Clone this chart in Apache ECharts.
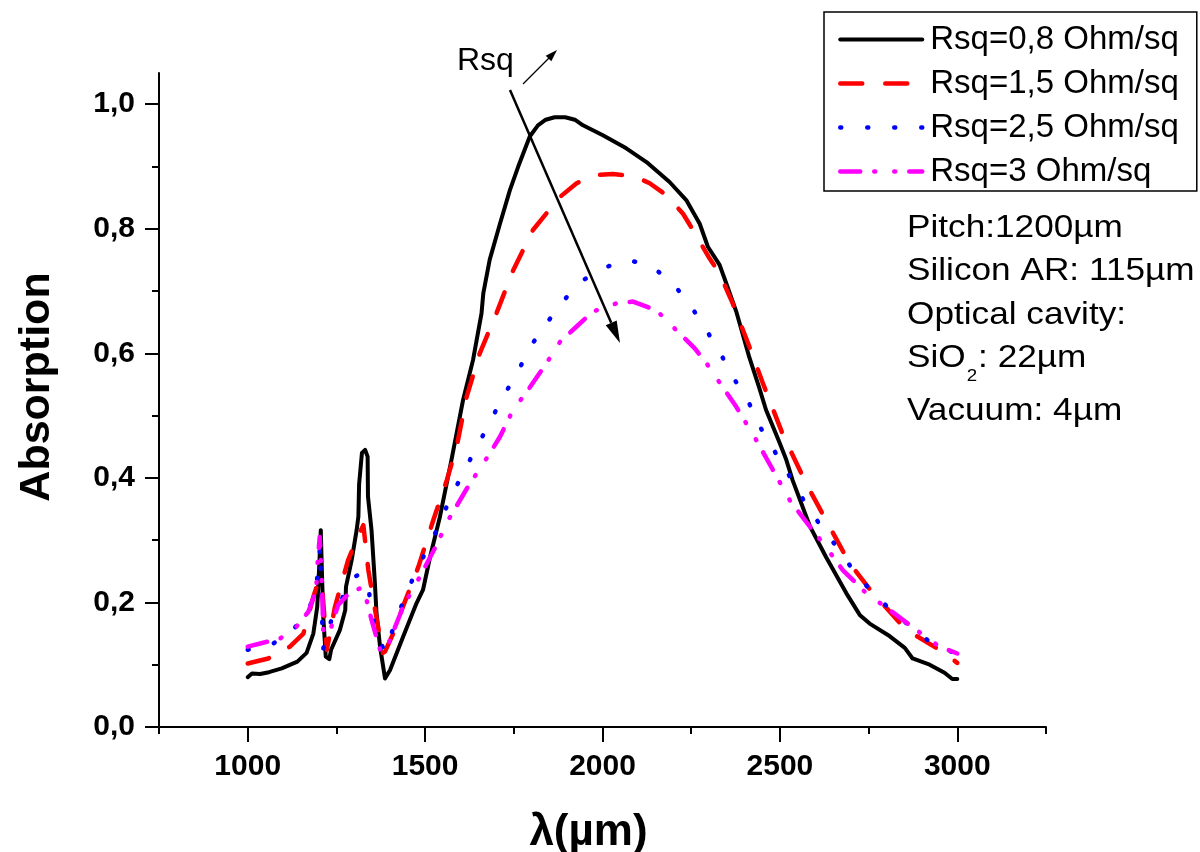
<!DOCTYPE html>
<html>
<head>
<meta charset="utf-8">
<script src="https://cdn.jsdelivr.net/npm/echarts@6/dist/echarts.min.js"></script>
<style>html,body{margin:0;padding:0;background:#fff}#c{width:1200px;height:852px}</style>
</head>
<body>
<div id="c"></div>
<script>
// ---- data ----
const seriesNames = ['Rsq=0,8 Ohm/sq', 'Rsq=1,5 Ohm/sq', 'Rsq=2,5 Ohm/sq', 'Rsq=3 Ohm/sq'];

const wl08 = [1000,1012,1035,1060,1096,1140,1166,1185,1196,1202,1206,1209,1213,1220,1230,1235,1260,1275,1277,1293,1307,1312,1314,1322,1331,1338,1339,1349,1358,1363,1373,1387,1401,1438,1476,1494,1514,1542,1575,1607,1635,1659,1664,1682,1711,1739,1762,1795,1818,1840,1865,1895,1922,1945,2001,2067,2124,2189,2236,2274,2297,2330,2349,2377,2413,2441,2461,2498,2518,2536,2584,2630,2687,2725,2753,2809,2852,2874,2922,2964,2986,3000];
const abs08 = [0.080,0.086,0.085,0.088,0.094,0.105,0.119,0.150,0.193,0.263,0.316,0.252,0.177,0.113,0.109,0.124,0.156,0.188,0.225,0.268,0.316,0.338,0.390,0.440,0.445,0.434,0.370,0.316,0.236,0.183,0.129,0.078,0.091,0.145,0.199,0.220,0.273,0.338,0.431,0.525,0.589,0.664,0.696,0.750,0.808,0.862,0.899,0.948,0.966,0.975,0.979,0.979,0.975,0.966,0.950,0.929,0.907,0.875,0.846,0.808,0.771,0.742,0.712,0.667,0.595,0.546,0.509,0.458,0.429,0.396,0.323,0.273,0.215,0.180,0.166,0.146,0.127,0.110,0.100,0.087,0.077,0.077];

const wl15 = [1000,1058,1119,1157,1185,1200,1209,1223,1246,1283,1310,1326,1340,1359,1381,1387,1410,1434,1481,1523,1561,1589,1617,1654,1701,1748,1804,1880,1927,1980,2030,2090,2133,2180,2227,2255,2302,2330,2367,2413,2452,2508,2574,2630,2696,2762,2856,2950,3000];
const abs15 = [0.102,0.110,0.129,0.150,0.209,0.235,0.231,0.124,0.193,0.268,0.305,0.324,0.252,0.188,0.119,0.121,0.150,0.188,0.257,0.332,0.396,0.450,0.530,0.600,0.664,0.733,0.798,0.851,0.873,0.886,0.888,0.884,0.873,0.854,0.824,0.798,0.752,0.728,0.680,0.612,0.552,0.470,0.391,0.332,0.263,0.215,0.156,0.124,0.103];

const wl25 = [1000,1072,1129,1180,1199,1204,1208,1213,1235,1260,1293,1315,1338,1349,1363,1387,1415,1443,1474,1509,1542,1570,1610,1645,1682,1715,1758,1790,1832,1880,1931,1997,2072,2138,2199,2250,2293,2335,2372,2413,2447,2490,2528,2569,2616,2663,2710,2762,2818,2879,2940,3000];
const abs25 = [0.124,0.134,0.156,0.199,0.247,0.290,0.200,0.126,0.170,0.199,0.239,0.245,0.233,0.188,0.148,0.121,0.166,0.209,0.249,0.289,0.327,0.367,0.410,0.450,0.487,0.527,0.565,0.605,0.640,0.677,0.712,0.736,0.750,0.740,0.712,0.675,0.637,0.597,0.558,0.520,0.479,0.438,0.402,0.362,0.322,0.287,0.249,0.215,0.185,0.156,0.129,0.118];

const wl3 = [1000,1091,1133,1171,1193,1197,1203,1210,1213,1227,1255,1286,1326,1335,1349,1373,1387,1401,1438,1485,1532,1565,1620,1673,1711,1748,1790,1842,1880,1927,1973,2039,2086,2152,2208,2260,2293,2330,2377,2433,2480,2528,2584,2630,2677,2743,2809,2884,2950,3000];
const abs3 = [0.129,0.142,0.158,0.185,0.220,0.263,0.305,0.215,0.156,0.145,0.196,0.215,0.225,0.204,0.172,0.124,0.118,0.140,0.193,0.241,0.292,0.332,0.385,0.431,0.466,0.509,0.541,0.584,0.618,0.643,0.667,0.680,0.683,0.669,0.637,0.608,0.584,0.553,0.514,0.461,0.413,0.364,0.322,0.289,0.252,0.215,0.188,0.156,0.129,0.118];

const xMajorTicks = [1000, 1500, 2000, 2500, 3000];
const xMinorTicks = [750, 1250, 1750, 2250, 2750, 3250];
const yMajorTicks = [0, 0.2, 0.4, 0.6, 0.8, 1.0];
const yMinorTicks = [0.1, 0.3, 0.5, 0.7, 0.9];

const infoLines = ['Pitch:1200µm', 'Silicon AR: 115µm', 'Optical cavity:'];
const sioParts = ['SiO', '2', ': 22µm'];
const lastLine = 'Vacuum: 4µm';

// ---- chart ----
const FONT = '"Liberation Sans", Arial, sans-serif';
const pairs = (xs, ys) => xs.map((x, i) => [x, ys[i]]);
const chart = echarts.init(document.getElementById('c'), null, {renderer: 'canvas'});

const axisLineStyle = {color: '#000', width: 2};
function lineSeries(name, xs, ys, color, width, type) {
  return {
    name, type: 'line', data: pairs(xs, ys), xAxisIndex: 0, yAxisIndex: 0,
    symbol: 'none', smooth: false, clip: false,
    lineStyle: {color, width, type, cap: 'round', join: 'round'},
    itemStyle: {color}
  };
}

// measure text for SiO2 line
const mctx = document.createElement('canvas').getContext('2d');
function tw(t, size) { mctx.font = size + 'px ' + FONT; return mctx.measureText(t).width; }
const infoX = 907, infoFs = 32, subFs = 17, SX = 1.1;
const w1 = tw(sioParts[0], infoFs) * SX, w2 = tw(sioParts[1], subFs) * SX;

function infoText(t, x, y, fs, va) {
  return {type: 'text', x, y, scaleX: SX, style: {text: t, fontSize: fs, fontFamily: FONT, fill: '#000', align: 'left', verticalAlign: va || 'middle'}};
}

const graphics = [
  {type: 'text', x: 457, y: 61, style: {text: 'Rsq', fontSize: 32, fontFamily: FONT, fill: '#000', align: 'left', verticalAlign: 'middle'}},
  {type: 'line', shape: {x1: 510, y1: 90, x2: 611.2, y2: 322.8}, style: {stroke: '#000', lineWidth: 2.5}},
  {type: 'polygon', shape: {points: [[620, 343], [605.7, 325.2], [616.7, 320.4]]}, style: {fill: '#000'}},
  {type: 'line', shape: {x1: 523, y1: 84, x2: 549, y2: 58}, style: {stroke: '#000', lineWidth: 1.2}},
  {type: 'polygon', shape: {points: [[557, 50], [551.3, 61.3], [545.7, 55.7]]}, style: {fill: '#000'}}
];
const infoYs = [228, 271, 315];
infoLines.forEach((t, i) => graphics.push(infoText(t, infoX, infoYs[i], infoFs)));
graphics.push(infoText(sioParts[0], infoX, 358, infoFs));
graphics.push(infoText(sioParts[1], infoX + w1 + 1, 368, subFs, 'top'));
graphics.push(infoText(sioParts[2], infoX + w1 + w2 + 2, 358, infoFs));
graphics.push(infoText(lastLine, infoX, 411, infoFs));

const option = {
  animation: false,
  backgroundColor: '#fff',
  grid: {left: 159, right: 154, top: 73, bottom: 125, containLabel: false, outerBoundsMode: 'none'},
  legend: {
    orient: 'vertical', left: 824, top: 12,
    data: seriesNames,
    itemWidth: 82, itemHeight: 20, itemGap: 11,
    padding: [11, 18, 3, 14],
    borderColor: '#000', borderWidth: 1.5, backgroundColor: '#fff',
    itemStyle: {opacity: 0},
    lineStyle: {width: 'inherit'},
    textStyle: {fontSize: 33, fontFamily: FONT, color: '#000', lineHeight: 32, padding: [0, 0, 0, 3]},
    selectedMode: false
  },
  xAxis: [
    {
      type: 'value', min: 750, max: 3250, position: 'bottom',
      axisLine: {show: true, onZero: false, lineStyle: axisLineStyle},
      axisTick: {show: true, customValues: xMajorTicks, length: 15, inside: false, lineStyle: {color: '#000', width: 2}},
      axisLabel: {customValues: xMajorTicks, fontSize: 30, fontWeight: 'bold', fontFamily: FONT, color: '#000', margin: 25,
        formatter: v => String(v)},
      splitLine: {show: false},
      name: 'λ(µm)', nameLocation: 'middle', nameGap: 84,
      nameTextStyle: {fontSize: 44, fontWeight: 'bold', fontFamily: FONT, color: '#000', padding: [0, 28, 0, 0]}
    },
    {
      type: 'value', min: 750, max: 3250, position: 'bottom', offset: 0,
      axisLine: {show: false},
      axisTick: {show: true, customValues: xMinorTicks, length: 7, inside: false, lineStyle: {color: '#000', width: 2}},
      axisLabel: {show: false},
      splitLine: {show: false}
    }
  ],
  yAxis: [
    {
      type: 'value', min: 0, max: 1.05, position: 'left',
      axisLine: {show: true, onZero: false, lineStyle: axisLineStyle},
      axisTick: {show: true, customValues: yMajorTicks, length: 14, inside: false, lineStyle: {color: '#000', width: 2}},
      axisLabel: {customValues: yMajorTicks, fontSize: 30, fontWeight: 'bold', fontFamily: FONT, color: '#000', margin: 24,
        formatter: v => v.toFixed(1).replace('.', ',')},
      splitLine: {show: false},
      name: 'Absorption', nameLocation: 'middle', nameGap: 100,
      nameTextStyle: {fontSize: 43, fontWeight: 'bold', fontFamily: FONT, color: '#000', padding: [0, 0, 0, 26]}
    },
    {
      type: 'value', min: 0, max: 1.05, position: 'left', offset: 0,
      axisLine: {show: false},
      axisTick: {show: true, customValues: yMinorTicks, length: 7, inside: false, lineStyle: {color: '#000', width: 2}},
      axisLabel: {show: false},
      splitLine: {show: false}
    }
  ],
  series: [
    lineSeries(seriesNames[0], wl08, abs08, '#000000', 4, 'solid'),
    lineSeries(seriesNames[1], wl15, abs15, '#ff0000', 4.5, [22, 23]),
    lineSeries(seriesNames[2], wl25, abs25, '#0000ff', 4.5, [1, 26]),
    lineSeries(seriesNames[3], wl3, abs3, '#ff00ff', 4.5, [20, 14, 1, 19, 1, 14])
  ],
  graphic: graphics
};
chart.setOption(option);
</script>
</body>
</html>
